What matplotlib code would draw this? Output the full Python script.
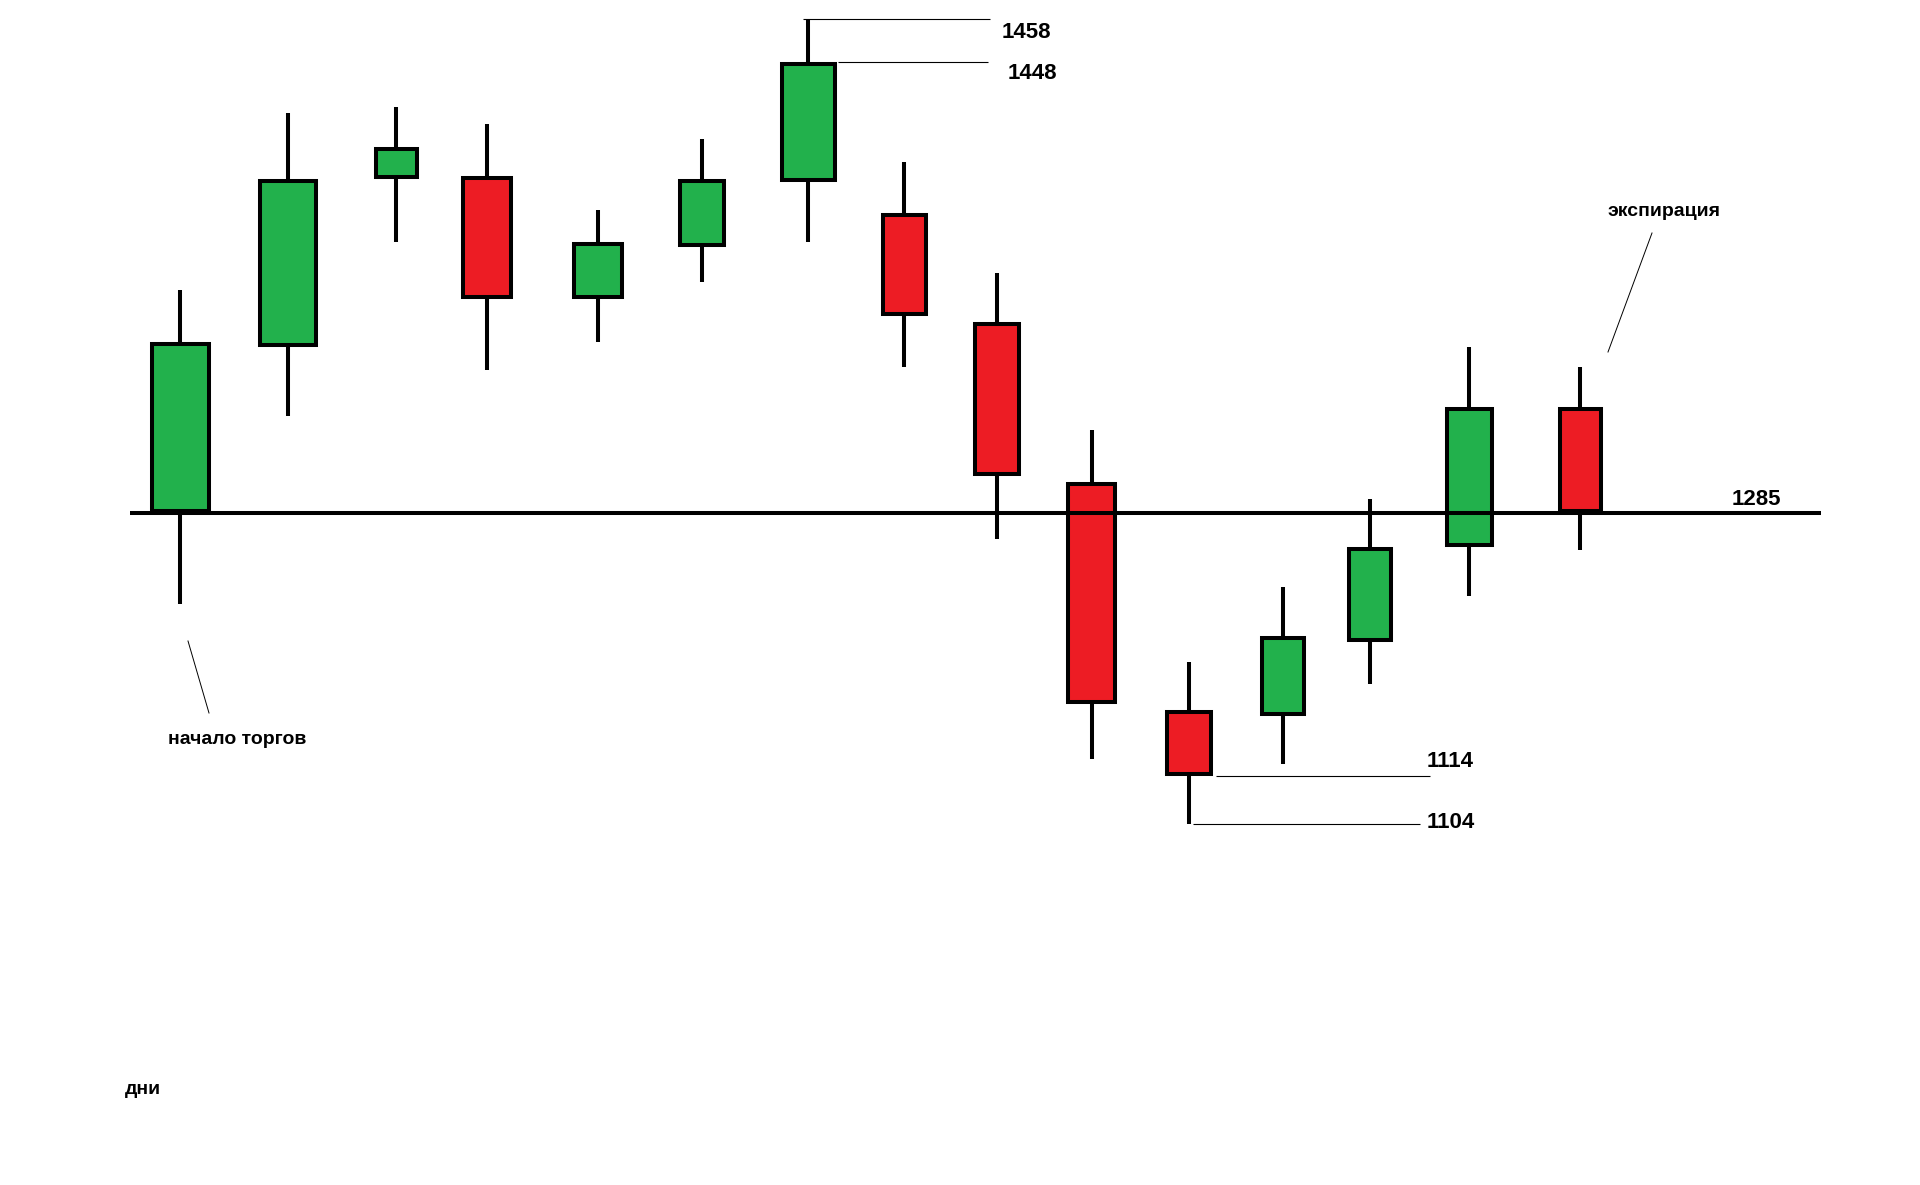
import matplotlib.pyplot as plt
from matplotlib.patches import Rectangle
from matplotlib.lines import Line2D

# hand-drawn schematic: positions in "days", prices in drawing units
days = [0, 1.08, 2.16, 3.07, 4.18, 5.22, 6.28, 7.24, 8.17, 9.12, 10.09, 11.03, 11.90, 12.89, 14.00]
opens = [1285, 1343, 1402, 1403, 1360, 1378, 1401, 1390, 1352, 1296, 1216, 1214, 1240, 1273, 1322]
highs = [1363, 1425, 1427, 1421, 1391, 1416, 1458, 1408, 1369, 1314, 1233, 1259, 1290, 1343, 1336]
lows = [1253, 1319, 1380, 1335, 1345, 1366, 1380, 1336, 1276, 1199, 1176, 1197, 1225, 1256, 1272]
closes = [1345, 1402, 1413, 1360, 1380, 1402, 1443, 1354, 1298, 1218, 1193, 1242, 1273, 1322, 1285]

level = 1285
level_label = '1285'
top_labels = ['1458', '1448']
bottom_labels = ['1114', '1104']

GREEN = '#22B14C'
RED = '#ED1C24'
LW = 2.9
body_w = [0.61, 0.60, 0.45, 0.52, 0.52, 0.48, 0.57, 0.47, 0.48, 0.51, 0.48, 0.46, 0.46, 0.49, 0.45]
num_font = dict(family='Liberation Sans', weight='bold', fontsize=16, color='black')
txt_font = dict(family='Liberation Sans', weight='bold', fontsize=14, color='black')

fig = plt.figure(figsize=(19.2, 11.85), dpi=100)
ax = fig.add_axes([0, 0, 1, 1])
ax.set_xlim(-1.8, 17.4)
ax.set_ylim(1049.8, 1464.55)
ax.axis('off')

# wicks
ax.vlines(days, lows, highs, color='black', lw=LW, zorder=2)

# bodies (stroke is centred on the path, so pull the path in a bit)
pad_y = 0.7
for d, o, c, w in zip(days, opens, closes, body_w):
    col = GREEN if c >= o else RED
    bottom = min(o, c) + pad_y
    height = abs(c - o) - 2 * pad_y
    ax.add_patch(Rectangle((d - w / 2 + 0.02, bottom), w - 0.04, height,
                           facecolor=col, edgecolor='black', lw=LW, zorder=3))

# expiry level line
ax.hlines(level, -0.5, 16.41, color='black', lw=LW, zorder=4)
ax.annotate(level_label, xy=(15.52, level), xytext=(0, 13),
            textcoords='offset pixels', va='center', ha='left', **num_font)

# max / min marks
i_max = highs.index(max(highs))
i_min = lows.index(min(lows))
ax.hlines(highs[i_max], days[i_max] - 0.05, 8.10, color='black', lw=0.8, zorder=1)
ax.hlines(closes[i_max], days[i_max] + 0.30, 8.08, color='black', lw=0.8, zorder=1)
ax.annotate(top_labels[0], xy=(8.10, highs[i_max]), xytext=(12, -14),
            textcoords='offset pixels', va='center', ha='left', **num_font)
ax.annotate(top_labels[1], xy=(8.08, closes[i_max]), xytext=(20, -12),
            textcoords='offset pixels', va='center', ha='left', **num_font)

ax.hlines(closes[i_min], days[i_min] + 0.27, 12.50, color='black', lw=0.8, zorder=1)
ax.hlines(lows[i_min], days[i_min] + 0.04, 12.40, color='black', lw=0.8, zorder=1)
ax.annotate(bottom_labels[0], xy=(12.50, closes[i_min]), xytext=(-3, 14),
            textcoords='offset pixels', va='center', ha='left', **num_font)
ax.annotate(bottom_labels[1], xy=(12.40, lows[i_min]), xytext=(7, 2),
            textcoords='offset pixels', va='center', ha='left', **num_font)

# notes with leader lines
W, H = 1920, 1185
def fx(px):
    return px / W
def fy(py):
    return 1 - py / H

fig.add_artist(Line2D([fx(188), fx(209)], [fy(641), fy(713)], color='black', lw=0.7))
fig.text(fx(168), fy(740), 'начало торгов', va='center', ha='left', **txt_font)

fig.add_artist(Line2D([fx(1652), fx(1608)], [fy(233), fy(352)], color='black', lw=0.7))
fig.text(fx(1607), fy(212), 'экспирация', va='center', ha='left', **txt_font)

fig.text(fx(125), fy(1090), 'дни', va='center', ha='left', **txt_font)

fig.savefig('out.png', dpi=100)
